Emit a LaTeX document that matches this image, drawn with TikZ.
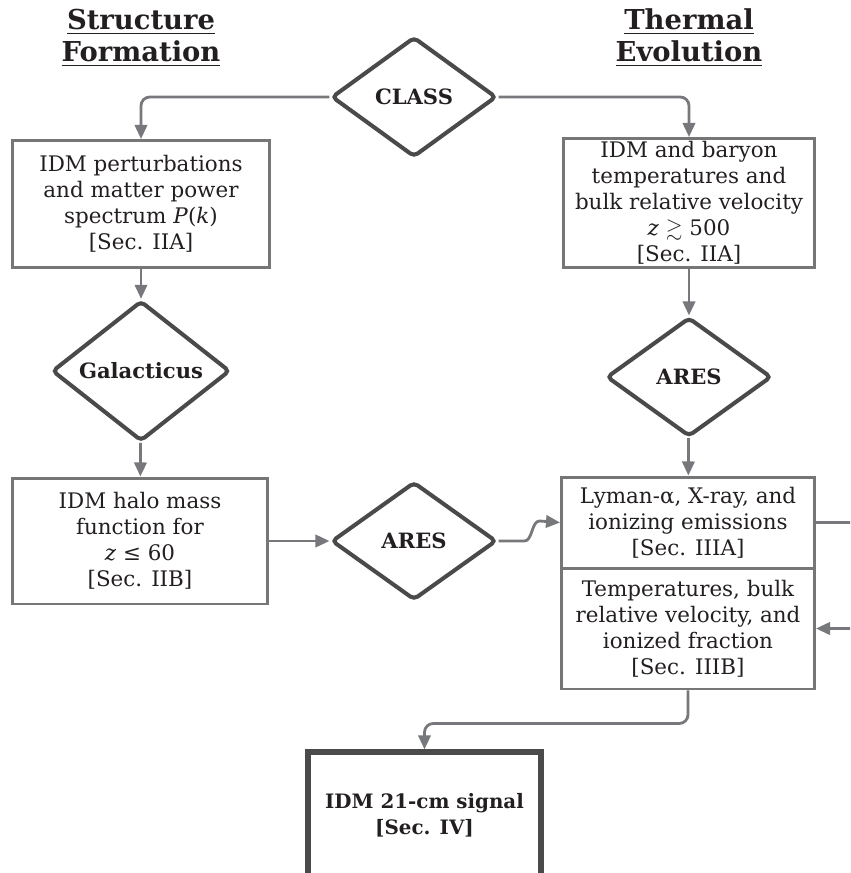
\documentclass[tikz,border=0pt]{standalone}
\usepackage{fontspec}
\usepackage{amssymb}
\setmainfont{DejaVu Serif}
\usetikzlibrary{shapes.geometric,arrows.meta}

\definecolor{boxgray}{HTML}{767676}
\definecolor{diagray}{HTML}{4A4A4A}
\definecolor{arrgray}{HTML}{77787B}
\definecolor{inkgray}{HTML}{231F20}

\tikzset{
  infobox/.style={draw=boxgray, line width=1.7pt, align=center, text=inkgray,
    font=\fontsize{12.2}{14.8}\selectfont, inner sep=0pt},
  decision/.style={diamond, draw=diagray, line width=2.3pt, rounded corners=2.5pt,
    text=inkgray, font=\bfseries\fontsize{12}{14}\selectfont, inner sep=0pt},
  flow/.style={draw=arrgray, line width=1.6pt, rounded corners=5pt,
    -{Triangle[length=8pt,width=7pt]}},
  heading/.style={text=inkgray, font=\bfseries\fontsize{15.6}{18.2}\selectfont, align=center}
}

\begin{document}
\begin{tikzpicture}[x=0.02cm,y=-0.02cm]
        \clip (0,0) rectangle (850,873);

        \node (hstruct) at (141,38) [heading] {\underline{Structure}\\\underline{Formation}};
        \node (htherm) at (689,38) [heading] {\underline{Thermal}\\\underline{Evolution}};

        \node (class) at (414,97) [decision,minimum width=3.3cm,minimum height=2.4cm] {CLASS};

        \node (pk) at (141,204) [infobox,minimum width=5.14cm,minimum height=2.54cm]
        {IDM perturbations\\and matter power\\spectrum \textit{P}(\textit{k})\\{[}Sec. IIA{]}};
        \node (temps) at (689,203) [infobox,minimum width=5.04cm,minimum height=2.58cm]
        {IDM and baryon\\temperatures and\\bulk relative velocity\\\textit{z} $\gtrsim$ 500\\{[}Sec. IIA{]}};

        \node (galac) at (141,371) [decision,minimum width=3.56cm,minimum height=2.36cm] {Galacticus};
        \node (aresth) at (689,377) [decision,minimum width=3.3cm,minimum height=2.38cm] {ARES};

        \node (hmf) at (140,541) [infobox,minimum width=5.1cm,minimum height=2.52cm]
        {IDM halo mass\\function for\\\textit{z} ≤ 60\\{[}Sec. IIB{]}};
        \node (aressf) at (414,541) [decision,minimum width=3.3cm,minimum height=2.36cm] {ARES};

        \node (emis) at (688,522.5) [infobox,minimum width=5.06cm,minimum height=1.82cm]
        {Lyman-α, X-ray, and\\ionizing emissions\\{[}Sec. IIIA{]}};
        \node (ionfr) at (688,628.5) [infobox,minimum width=5.06cm,minimum height=2.42cm]
        {Temperatures, bulk\\relative velocity, and\\ionized fraction\\{[}Sec. IIIB{]}};

        \node (signal) at (424.5,815) [infobox,draw=diagray,line width=3pt,
          minimum width=4.66cm,minimum height=2.52cm,font=\bfseries\fontsize{11.3}{15}\selectfont]
        {IDM 21-cm signal\\{[}Sec. IV{]}};

        \draw[flow] (class.west) -| (pk.north);
        \draw[flow] (class.east) -| (temps.north);
        \draw[flow] (pk) -- (galac);
        \draw[flow] (galac) -- (hmf);
        \draw[flow] (temps) -- (aresth);
        \draw[flow] (aresth) -- (emis);
        \draw[flow] (hmf) -- (aressf);
        \draw[flow,rounded corners=0pt] (aressf.east) -- ++(26,0)
        .. controls ++(8,0) and ++(-8,0) .. ++(15,-20) -- (emis.west);
        \draw[flow] (emis.east) -- ++(50,0) |- (ionfr.east);
        \draw[flow] (ionfr.south) -- ++(0,33) -| (signal.north);
\end{tikzpicture}
\end{document}
